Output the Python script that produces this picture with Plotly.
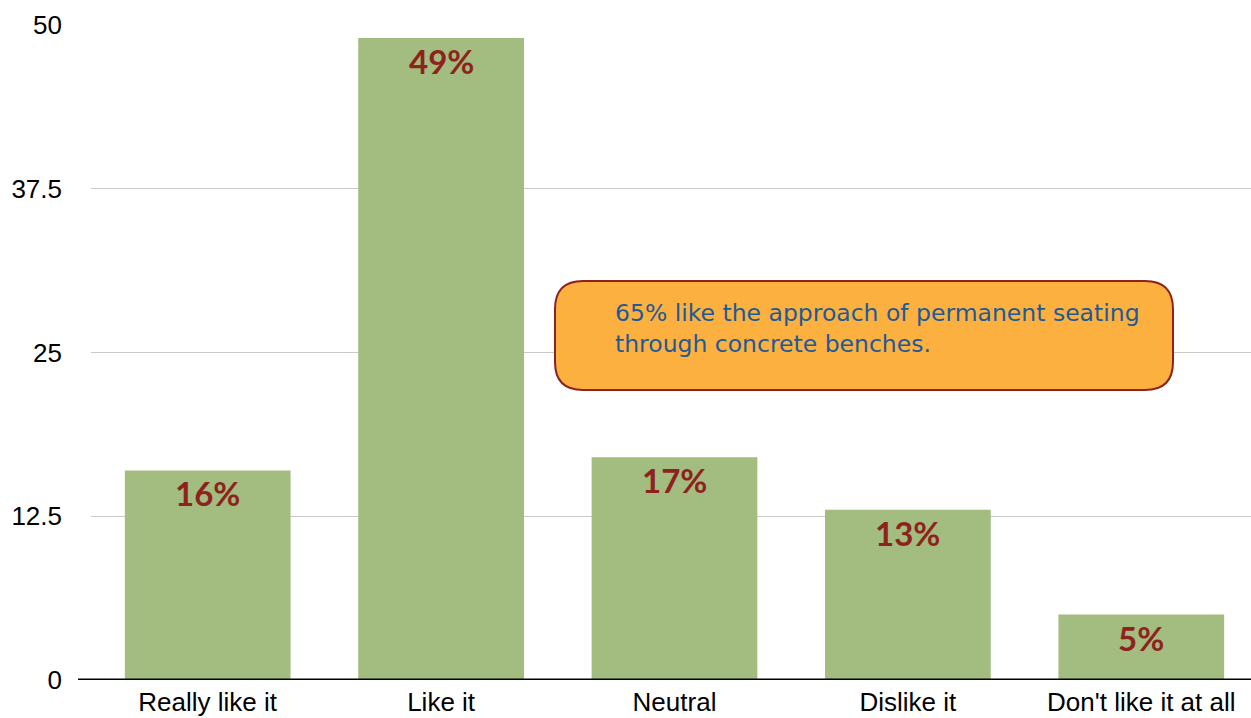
import plotly.graph_objects as go

categories = ["Really like it", "Like it", "Neutral", "Dislike it", "Don't like it at all"]
values = [16, 49, 17, 13, 5]
labels = ["16%", "49%", "17%", "13%", "5%"]
y_ticks = [0, 12.5, 25, 37.5, 50]
y_tick_text = ["0", "12.5", "25", "37.5", "50"]
note_text = "65% like the approach of permanent seating<br>through concrete benches."

W, H = 1251, 718
ML, MR, MT, MB = 91, 0, 25, 38
PW = W - ML - MR
PH = H - MT - MB

fig = go.Figure()
fig.add_trace(go.Bar(
    x=categories, y=values,
    marker=dict(color="#A3BC7F", line=dict(width=0)),
    hoverinfo="skip",
))

for c, v, t in zip(categories, values, labels):
    fig.add_annotation(
        x=c, y=v, text=t, showarrow=False,
        xanchor="center", yanchor="top", yshift=-1,
        font=dict(family="Lato", size=33, color="#8E231E", weight="bold"),
    )

# Zero baseline
fig.add_shape(type="line", xref="paper", yref="y",
              x0=(78 - ML) / PW, x1=1, y0=0, y1=0,
              line=dict(color="#000000", width=3), layer="above")

# Rounded callout box
def px2paper(px, py):
    return (px - ML) / PW, (H - MB - py) / PH

x0p, y0p, x1p, y1p, r = 555, 281, 1173, 390, 28
def P(px, py):
    a, b = px2paper(px, py)
    return f"{a:.5f},{b:.5f}"
path = (
    f"M {P(x0p + r, y0p)} L {P(x1p - r, y0p)} Q {P(x1p, y0p)} {P(x1p, y0p + r)} "
    f"L {P(x1p, y1p - r)} Q {P(x1p, y1p)} {P(x1p - r, y1p)} "
    f"L {P(x0p + r, y1p)} Q {P(x0p, y1p)} {P(x0p, y1p - r)} "
    f"L {P(x0p, y0p + r)} Q {P(x0p, y0p)} {P(x0p + r, y0p)} Z"
)
fig.add_shape(type="path", xref="paper", yref="paper", path=path,
              fillcolor="#FBB040", line=dict(color="#8E231E", width=2), layer="above")

tx, ty = px2paper(613, 328.5)
fig.add_annotation(
    xref="paper", yref="paper", x=tx, y=ty, text=note_text,
    showarrow=False, xanchor="left", yanchor="middle", align="left",
    font=dict(family="DejaVu Sans", size=23.5, color="#1F5A96"),
)

fig.update_layout(
    width=W, height=H,
    margin=dict(l=ML, r=MR, t=MT, b=MB),
    plot_bgcolor="white", paper_bgcolor="white",
    bargap=0.29, showlegend=False,
    xaxis=dict(
        range=[-0.5, -0.5 + PW / 233.4],
        showgrid=False, showline=False, ticks="",
        tickfont=dict(family="Liberation Sans", size=26, color="#000000"),
        ticklabelstandoff=4,
    ),
    yaxis=dict(
        range=[0, 50], tickvals=y_ticks, ticktext=y_tick_text,
        showgrid=True, gridcolor="#C8C8C8", gridwidth=1,
        zeroline=False, showline=False, ticks="",
        tickfont=dict(family="Liberation Sans", size=26, color="#000000"),
        ticklabelstandoff=28,
    ),
)

fig.write_html("out.html", config={"displayModeBar": False},
               post_script="document.body.style.margin='0';document.body.style.overflow='hidden';")
